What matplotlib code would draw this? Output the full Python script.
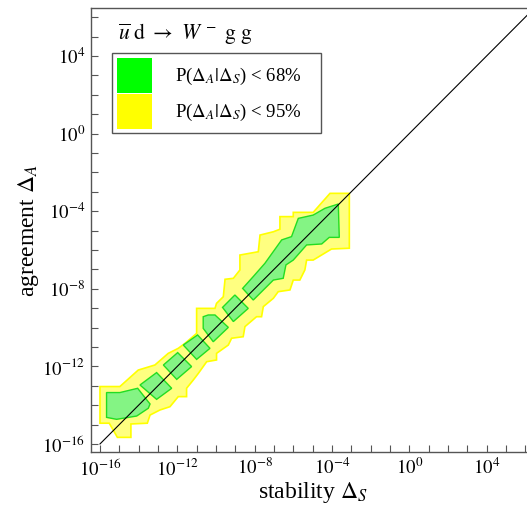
import numpy as np
import matplotlib
matplotlib.use("Agg")
from matplotlib import pyplot as plt
from matplotlib.patches import Rectangle
from matplotlib.ticker import FixedLocator, FuncFormatter, NullFormatter

plt.rcParams['font.family'] = ['Liberation Serif', 'DejaVu Serif']
plt.rcParams['mathtext.fontset'] = 'stix'

# contour outlines, in log10 units (x = stability, y = agreement)
band95_x = [-16.0, -14.97, -14.02, -13.16, -12.47, -11.95, -11.60, -11.0, -11.0, -10.05,
            -9.97, -9.62, -9.53, -9.10, -8.76, -8.76, -7.81, -7.72, -7.03, -6.69,
            -6.69, -6.0, -6.0, -4.97, -4.10, -3.10, -3.10,
            -4.02, -4.97, -5.31, -5.40, -5.66, -6.0, -6.17, -6.78, -7.03, -7.55,
            -7.64, -7.90, -8.50, -8.59, -9.19, -9.36, -9.97, -9.97, -10.48, -10.91,
            -11.17, -11.52, -11.52, -11.95, -12.38, -12.90, -13.41, -13.55, -14.40,
            -14.40, -15.10, -15.52, -16.0]
band95_y = [-13.04, -13.04, -12.19, -11.93, -11.33, -11.07, -10.81, -10.30, -9.01, -9.01,
            -8.75, -8.41, -7.51, -7.46, -7.03, -6.26, -6.09, -5.23, -5.06, -4.93,
            -4.28, -4.28, -4.06, -4.06, -3.08, -3.08, -5.91,
            -5.95, -6.52, -6.52, -7.03, -7.55, -7.55, -8.06, -8.15, -8.49, -8.92,
            -9.44, -9.44, -9.95, -10.47, -10.55, -10.90, -11.33, -11.67, -11.76, -12.36,
            -12.70, -13.13, -13.56, -13.56, -14.08, -14.25, -14.51, -14.93, -14.97,
            -15.66, -15.66, -14.93, -14.93]

band68_x = [
    [-15.66, -14.97, -14.05, -13.41, -13.50, -14.10, -15.14, -15.66],
    [-13.93, -13.07, -12.29, -13.07],
    [-12.72, -11.98, -11.26, -12.03],
    [-11.69, -10.95, -10.31, -11.00],
    [-10.66, -10.40, -10.05, -9.36, -10.14, -10.66],
    [-9.66, -9.02, -8.33, -9.10],
    [-8.62, -8.07, -7.47, -6.60, -6.09, -5.74, -4.97, -4.36, -3.67, -3.62,
     -4.14, -4.53, -5.31, -6.00, -6.38, -6.52, -7.03, -8.07],
]
band68_y = [
    [-13.35, -13.35, -13.13, -13.94, -14.16, -14.56, -14.73, -14.63],
    [-12.96, -12.32, -13.13, -13.70],
    [-11.93, -11.29, -12.01, -12.67],
    [-10.90, -10.38, -11.07, -11.64],
    [-9.44, -9.35, -9.35, -9.99, -10.73, -10.04],
    [-8.96, -8.32, -9.01, -9.69],
    [-7.98, -7.37, -6.69, -5.48, -5.31, -4.37, -4.20, -3.85, -3.63, -5.35,
     -5.35, -5.69, -5.74, -6.52, -6.77, -7.46, -7.55, -8.58],
]

diag = [1e-16, 1e7]
major_exp = np.arange(-16, 8, 4)
minor_exp = np.arange(-16, 7)
legend_labels = [r'P($\Delta_A|\Delta_S$) < 68%', r'P($\Delta_A|\Delta_S$) < 95%']

W, H = 527, 515
fig = plt.figure(figsize=(W/100, H/100), dpi=100)
ax = fig.add_axes([90.7/W, 62.7/H, 444/W, 444/H])
ax.set_xscale('log')
ax.set_yscale('log')

ax.fill(10.0**np.array(band95_x), 10.0**np.array(band95_y),
        facecolor='#ffff80', edgecolor='#ffff00', lw=1.2, zorder=2)
for xs, ys in zip(band68_x, band68_y):
    ax.fill(10.0**np.array(xs), 10.0**np.array(ys),
            facecolor='#84f484', edgecolor='#22dd22', lw=1.0, zorder=3)

ax.plot(diag, diag, color='black', lw=0.8, zorder=4)

ax.set_xlim(10**-16.48, 10**6.49)
ax.set_ylim(10**-16.43, 10**6.46)

for axis in (ax.xaxis, ax.yaxis):
    axis.set_major_locator(FixedLocator(10.0**major_exp))
    axis.set_minor_locator(FixedLocator(10.0**minor_exp))
    axis.set_major_formatter(FuncFormatter(lambda v, p: r'$10^{%d}$' % round(np.log10(v))))
    axis.set_minor_formatter(NullFormatter())

ax.tick_params(which='both', direction='in', length=5, width=0.8, color='#555555',
               labelsize=13.5, top=False, right=False, pad=4)
for s in ax.spines.values():
    s.set_color('#555555')
    s.set_linewidth(1.0)

ax.set_xlabel(r'stability $\Delta_S$', fontsize=17, labelpad=0)
ax.set_ylabel(r'agreement $\Delta_A$', fontsize=17, labelpad=1)

# process label and legend, placed in figure pixels
fig.text(118/W, 1 - 40/H, r'$\overline{u}\ \mathrm{d}\ \rightarrow\ W^{\,-}\ \mathrm{g}\ \mathrm{g}$',
         fontsize=15.5, ha='left', va='baseline')

fig.add_artist(Rectangle((111.7/W, 1 - 133/H), (321 - 111.7)/W, (133 - 53.3)/H,
                         transform=fig.transFigure, facecolor='white',
                         edgecolor='#555555', lw=1.0, zorder=5))
swatch_colors = ['#00ff00', '#ffff00']
for i, (c, lab) in enumerate(zip(swatch_colors, legend_labels)):
    top = 58 + i*36
    fig.add_artist(Rectangle((116.7/W, 1 - (top + 34.7)/H), 35/W, 34.7/H,
                             transform=fig.transFigure, facecolor=c,
                             edgecolor='none', zorder=6))
    fig.text(175/W, 1 - (top + 18)/H, lab, fontsize=13.5, ha='left', va='center', zorder=7)

fig.savefig('out.png', dpi=100)
